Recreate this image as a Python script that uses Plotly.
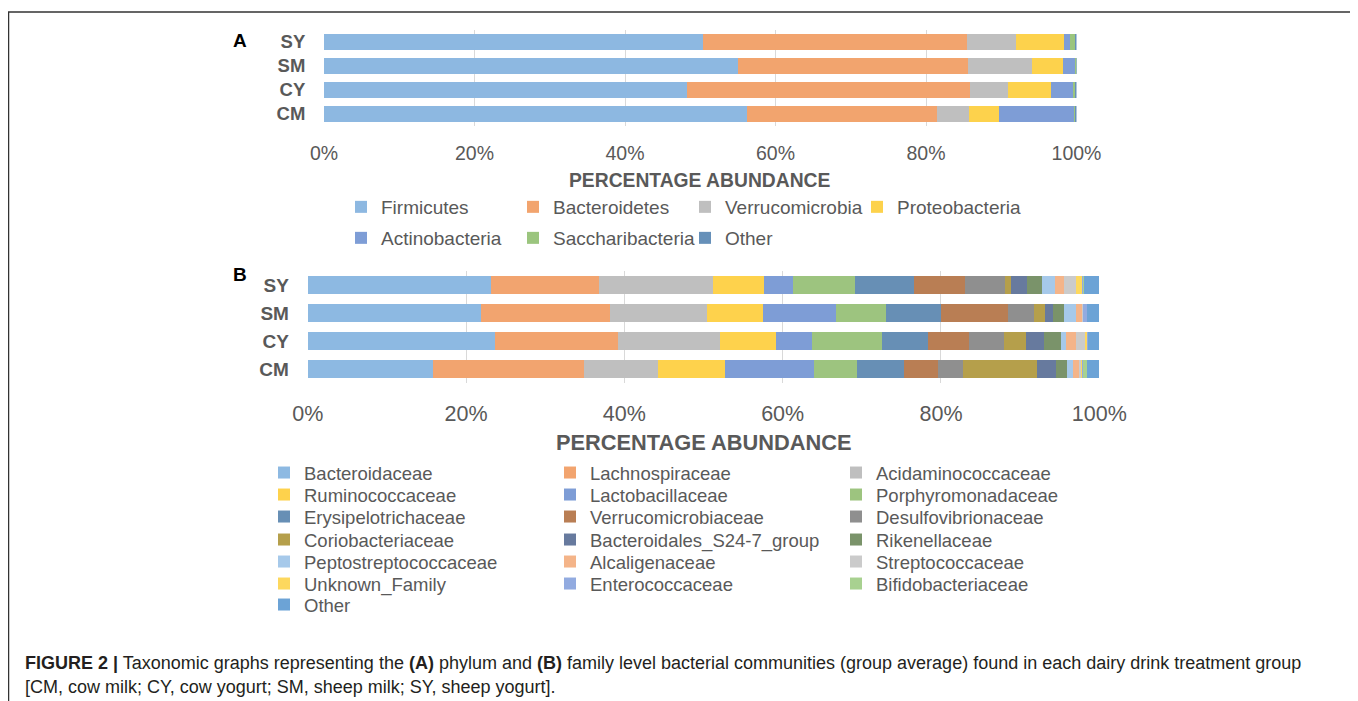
import plotly.graph_objects as go

# The page body adds an 8px margin, so the figure is drawn 8px in from the window corner.
OFF = 8
W, H = 1350, 693

groups = ["CM", "CY", "SM", "SY"]

# ---- Panel A : phylum level (percent) ----
phyla = ["Firmicutes", "Bacteroidetes", "Verrucomicrobia", "Proteobacteria",
         "Actinobacteria", "Saccharibacteria", "Other"]
phylum_CM = [56.2, 25.2, 4.3, 4.0, 10.0, 0.2, 0.1]
phylum_CY = [48.3, 37.5, 5.1, 5.7, 3.0, 0.3, 0.1]
phylum_SM = [55.0, 30.6, 8.5, 4.1, 1.7, 0.05, 0.05]
phylum_SY = [50.4, 35.1, 6.4, 6.4, 0.8, 0.8, 0.1]
phylum_colors = ["#8DB8E1", "#F2A46E", "#BFBFBF", "#FDD24C",
                 "#7E9DD6", "#9BC57E", "#6690B9"]

# ---- Panel B : family level (percent) ----
families = ["Bacteroidaceae", "Lachnospiraceae", "Acidaminococcaceae",
            "Ruminococcaceae", "Lactobacillaceae", "Porphyromonadaceae",
            "Erysipelotrichaceae", "Verrucomicrobiaceae", "Desulfovibrionaceae",
            "Coriobacteriaceae", "Bacteroidales_S24-7_group", "Rikenellaceae",
            "Peptostreptococcaceae", "Alcaligenaceae", "Streptococcaceae",
            "Unknown_Family", "Enterococcaceae", "Bifidobacteriaceae", "Other"]
family_CM = [15.8, 19.1, 9.4, 8.4, 11.2, 5.5, 5.9, 4.3, 3.2, 9.3, 2.4, 1.4,
             0.8, 0.7, 0.3, 0.2, 0.1, 0.5, 1.5]
family_CY = [23.6, 15.6, 12.9, 7.1, 4.5, 8.9, 5.8, 5.2, 4.4, 2.7, 2.3, 2.2,
             0.6, 1.2, 1.2, 0.3, 0.1, 0.0, 1.4]
family_SM = [21.9, 16.3, 12.3, 7.0, 9.2, 6.3, 7.0, 8.5, 3.2, 1.5, 1.0, 1.4,
             1.4, 0.9, 0.1, 0.0, 0.5, 0.0, 1.5]
family_SY = [23.1, 13.7, 14.4, 6.5, 3.6, 7.8, 7.5, 6.4, 5.1, 0.7, 2.1, 1.9,
             1.6, 1.2, 1.5, 0.8, 0.1, 0.1, 1.9]
family_colors = ["#8DB9E2", "#F2A46F", "#BFBFBF", "#FED24C", "#7E9DD6",
                 "#9DC47F", "#678FB5", "#B97E54", "#8F8F8F", "#B59F4B",
                 "#677A9E", "#7A936A", "#A6C9EA", "#F4B489", "#CBCBCB",
                 "#FDD85E", "#92ABE0", "#A8D190", "#6CA3D6"]

tick_vals = [0, 20, 40, 60, 80, 100]
tick_text = ["0%", "20%", "40%", "60%", "80%", "100%"]

FONT = "Liberation Sans, Arial, sans-serif"
GREY = "#595959"


def px_x(x):
    return (x - OFF) / W


def px_y(y):
    return 1 - (y - OFF) / H


fig = go.Figure()

# Panel A: one legend box per item (Excel-like fixed grid positions)
phylum_by_group = [phylum_CM, phylum_CY, phylum_SM, phylum_SY]
for i, name in enumerate(phyla):
    fig.add_trace(go.Bar(
        y=groups, x=[g[i] for g in phylum_by_group], name=name, orientation="h",
        marker=dict(color=phylum_colors[i], line=dict(width=0)),
        xaxis="x", yaxis="y", legend="legend" if i == 0 else "legend%d" % (i + 1),
        showlegend=True,
    ))

family_by_group = [family_CM, family_CY, family_SM, family_SY]
for i, name in enumerate(families):
    leg = "legend%d" % (8 + i // 3)
    fig.add_trace(go.Bar(
        y=groups, x=[g[i] for g in family_by_group], name=name, orientation="h",
        marker=dict(color=family_colors[i], line=dict(width=0)),
        xaxis="x2", yaxis="y2", legend=leg, showlegend=True,
    ))

axis_common = dict(range=[0, 100], tickvals=tick_vals, ticktext=tick_text,
                   showgrid=True, gridcolor="#D9D9D9", gridwidth=1,
                   zeroline=False, showline=False, ticks="outside",
                   tickcolor="rgba(0,0,0,0)", fixedrange=True)

layout = dict(
    width=W, height=H,
    margin=dict(l=0, r=0, t=0, b=0, autoexpand=False),
    paper_bgcolor="white", plot_bgcolor="white",
    barmode="stack", bargap=0.34, showlegend=True,
    font=dict(family=FONT, color=GREY),
    xaxis=dict(domain=[px_x(324), px_x(1076.5)], anchor="y", ticklen=10,
               tickfont=dict(size=19.5, color=GREY), **axis_common),
    yaxis=dict(domain=[px_y(126), px_y(30)], anchor="x",
               categoryorder="array", categoryarray=groups,
               ticks="outside", ticklen=14, tickcolor="rgba(0,0,0,0)",
               tickfont=dict(size=18.5, color=GREY, family=FONT, weight="bold"),
               showgrid=False, zeroline=False, showline=False, fixedrange=True),
    xaxis2=dict(domain=[px_x(307.7), px_x(1099.3)], anchor="y2", ticklen=11,
                tickfont=dict(size=21.5, color=GREY), **axis_common),
    yaxis2=dict(domain=[px_y(383), px_y(271)], anchor="x2",
                categoryorder="array", categoryarray=groups,
                ticks="outside", ticklen=14, tickcolor="rgba(0,0,0,0)",
                tickfont=dict(size=19, color=GREY, family=FONT, weight="bold"),
                showgrid=False, zeroline=False, showline=False, fixedrange=True),
)

legend_common = dict(orientation="h", xanchor="left", yanchor="middle",
                     bgcolor="rgba(0,0,0,0)", borderwidth=0, visible=True,
                     traceorder="normal", itemclick=False, itemdoubleclick=False)

TEXT_GAP = 40  # distance from legend left edge to item text in plotly
# Panel A legend item text positions (px)
legA_x = [381, 553, 725, 897, 381, 553, 725]
legA_y = [207, 207, 207, 207, 238, 238, 238]
for i in range(len(phyla)):
    key = "legend" if i == 0 else "legend%d" % (i + 1)
    layout[key] = dict(x=px_x(legA_x[i] - TEXT_GAP), y=px_y(legA_y[i]),
                       font=dict(size=19, color=GREY, family=FONT), **legend_common)

# Panel B legend rows
rows_b = [473, 495, 517, 540, 562, 584, 605]
for r, yy in enumerate(rows_b):
    layout["legend%d" % (8 + r)] = dict(
        x=px_x(304 - TEXT_GAP), y=px_y(yy), entrywidth=241, entrywidthmode="pixels",
        font=dict(size=18.5, color=GREY, family=FONT), **legend_common)

ann_common = dict(xref="paper", yref="paper", showarrow=False, yanchor="middle")
annotations = [
    dict(text="<b>A</b>", x=px_x(240), y=px_y(40), xanchor="center",
         font=dict(size=19, color="black", family=FONT), **ann_common),
    dict(text="<b>B</b>", x=px_x(240), y=px_y(275), xanchor="center",
         font=dict(size=19, color="black", family=FONT), **ann_common),
    dict(text="<b>PERCENTAGE ABUNDANCE</b>", x=px_x(700), y=px_y(180), xanchor="center",
         font=dict(size=19.3, color=GREY, family=FONT), **ann_common),
    dict(text="<b>PERCENTAGE ABUNDANCE</b>", x=px_x(703), y=px_y(443), xanchor="center",
         font=dict(size=21.8, color=GREY, family=FONT), **ann_common),
    dict(text="<b>FIGURE 2 |</b> Taxonomic graphs representing the <b>(A)</b> phylum and "
              "<b>(B)</b> family level bacterial communities (group average) found in "
              "each dairy drink treatment group",
         x=px_x(23), y=px_y(663), xanchor="left",
         font=dict(size=18, color="#231F20", family=FONT), **ann_common),
    dict(text="[CM, cow milk; CY, cow yogurt; SM, sheep milk; SY, sheep yogurt].",
         x=px_x(23), y=px_y(687), xanchor="left",
         font=dict(size=18, color="#231F20", family=FONT), **ann_common),
]
layout["annotations"] = annotations

layout["shapes"] = [
    dict(type="rect", xref="paper", yref="paper",
         x0=px_x(8.5), x1=px_x(1355), y0=-0.05, y1=px_y(12),
         line=dict(color="#333333", width=1.5), fillcolor="rgba(0,0,0,0)", layer="below"),
]

fig.update_layout(**layout)
fig.write_html("out.html", config={"displayModeBar": False})
